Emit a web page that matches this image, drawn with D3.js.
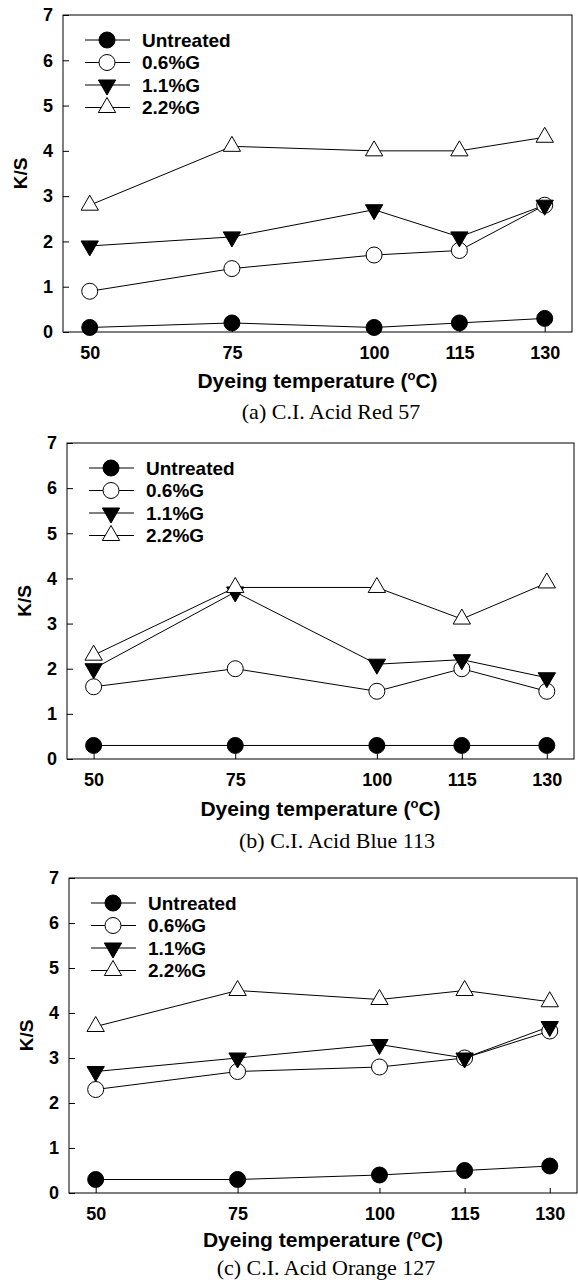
<!DOCTYPE html>
<html>
<head>
<meta charset="utf-8">
<script src="https://cdn.jsdelivr.net/npm/d3@7"></script>
<style>
  body { margin: 0; background: #fff; }
  svg { display: block; }
</style>
</head>
<body>
<div id="chart"></div>
<script>
// data
var temps = [50, 75, 100, 115, 130];
var seriesNames = ['Untreated', '0.6%G', '1.1%G', '2.2%G'];
var yTicks = [0, 1, 2, 3, 4, 5, 6, 7];

var redUntreated = [0.1, 0.2, 0.1, 0.2, 0.3];
var red06 = [0.9, 1.4, 1.7, 1.8, 2.8];
var red11 = [1.9, 2.1, 2.7, 2.1, 2.8];
var red22 = [2.8, 4.1, 4.0, 4.0, 4.3];

var blueUntreated = [0.3, 0.3, 0.3, 0.3, 0.3];
var blue06 = [1.6, 2.0, 1.5, 2.0, 1.5];
var blue11 = [2.0, 3.7, 2.1, 2.2, 1.8];
var blue22 = [2.3, 3.8, 3.8, 3.1, 3.9];

var orangeUntreated = [0.3, 0.3, 0.4, 0.5, 0.6];
var orange06 = [2.3, 2.7, 2.8, 3.0, 3.6];
var orange11 = [2.7, 3.0, 3.3, 3.0, 3.7];
var orange22 = [3.7, 4.5, 4.3, 4.5, 4.25];

var captions = ['(a) C.I. Acid Red 57', '(b) C.I. Acid Blue 113', '(c) C.I. Acid Orange 127'];

var SANS = '"Liberation Sans", Arial, sans-serif';
var SERIF = '"Liberation Serif", "Times New Roman", serif';

var Chart = {
  WIDTH: 578,
  HEIGHT: 1282,
  // frame of each panel plus offsets of the titles under it
  PANELS: [
    { left: 63, top: 15, right: 572, bottom: 332, titleDy: 56, capDy: 87, capX: 331 },
    { left: 67, top: 443, right: 574, bottom: 759, titleDy: 57, capDy: 89, capX: 337 },
    { left: 69, top: 878, right: 577, bottom: 1193, titleDy: 54, capDy: 82, capX: 326 }
  ],

  // marker drawing for each series
  marker: function(sel, idx) {
    if (idx < 2) {
      sel.append('circle')
        .attr('r', 8)
        .attr('fill', idx === 0 ? '#000' : '#fff')
        .attr('stroke', '#000')
        .attr('stroke-width', 1);
    } else {
      sel.append('path')
        .attr('d', d3.symbol(d3.symbolTriangle, 130)())
        .attr('transform', idx === 2 ? 'rotate(180)' : null)
        .attr('fill', idx === 2 ? '#000' : '#fff')
        .attr('stroke', '#000')
        .attr('stroke-width', 1);
    }
  },

  drawPanel: function(svg, box, data, caption) {
    var x = d3.scaleLinear().domain([45.3, 134.8]).range([box.left, box.right]);
    var y = d3.scaleLinear().domain([0, 7]).range([box.bottom, box.top]);
    var g = svg.append('g');

    // axes, ticks pointing inside the frame
    var yAxis = g.append('g')
      .attr('transform', 'translate(' + box.left + ',0)')
      .call(d3.axisLeft(y).tickValues(yTicks).tickFormat(d3.format('d'))
        .tickSizeInner(-6).tickSizeOuter(0).tickPadding(10));
    var xAxis = g.append('g')
      .attr('transform', 'translate(0,' + box.bottom + ')')
      .call(d3.axisBottom(x).tickValues(temps)
        .tickSizeInner(-5).tickSizeOuter(0).tickPadding(14));
    [yAxis, xAxis].forEach(function(a) {
      a.select('.domain').remove();
      a.selectAll('line').attr('stroke', '#000');
      a.selectAll('text')
        .attr('fill', '#000')
        .style('font-family', SANS)
        .style('font-weight', 'bold')
        .style('font-size', '18px');
    });

    // frame
    g.append('rect')
      .attr('x', box.left).attr('y', box.top)
      .attr('width', box.right - box.left).attr('height', box.bottom - box.top)
      .attr('fill', 'none').attr('stroke', '#000').attr('stroke-width', 1);

    // axis titles
    g.append('text')
      .attr('transform', 'translate(' + (box.left - 36) + ',' + ((box.top + box.bottom) / 2) + ') rotate(-90)')
      .attr('text-anchor', 'middle')
      .style('font-family', SANS)
      .style('font-weight', 'bold').style('font-size', '19px')
      .text('K/S');

    var xt = g.append('text')
      .attr('x', (box.left + box.right) / 2)
      .attr('y', box.bottom + box.titleDy)
      .attr('text-anchor', 'middle')
      .style('font-family', SANS)
      .style('font-weight', 'bold').style('font-size', '21px');
    xt.append('tspan').text('Dyeing temperature (');
    xt.append('tspan').attr('dy', -8).style('font-size', '13px').text('o');
    xt.append('tspan').attr('dy', 8).text('C)');

    g.append('text')
      .attr('x', box.capX)
      .attr('y', box.bottom + box.capDy)
      .attr('text-anchor', 'middle')
      .style('font-family', SERIF)
      .style('font-size', '22px')
      .text(caption);

    // series lines, then markers on top
    var line = d3.line()
      .x(function(d, i) { return x(temps[i]); })
      .y(function(d) { return y(d); });

    data.forEach(function(vals) {
      g.append('path')
        .datum(vals)
        .attr('d', line)
        .attr('fill', 'none')
        .attr('stroke', '#000')
        .attr('stroke-width', 1);
    });
    data.forEach(function(vals, idx) {
      g.selectAll('g.m' + idx)
        .data(vals)
        .enter()
        .append('g')
        .attr('class', 'm' + idx)
        .attr('transform', function(d, i) { return 'translate(' + x(temps[i]) + ',' + y(d) + ')'; })
        .each(function() { Chart.marker(d3.select(this), idx); });
    });

    // legend
    var leg = g.selectAll('g.legend')
      .data(seriesNames)
      .enter()
      .append('g')
      .attr('class', 'legend')
      .attr('transform', function(d, i) {
        return 'translate(' + (box.left + 44) + ',' + (box.top + 25 + i * 22.5) + ')';
      });
    leg.append('line')
      .attr('x1', -22).attr('x2', 23)
      .attr('stroke', '#000').attr('stroke-width', 1);
    leg.each(function(d, i) { Chart.marker(d3.select(this), i); });
    leg.append('text')
      .attr('x', 35).attr('dy', '0.36em')
      .style('font-family', SANS)
      .style('font-weight', 'bold').style('font-size', '19px')
      .text(function(d) { return d; });
  },

  init: function() {
    var svg = d3.select('#chart').append('svg')
      .attr('width', Chart.WIDTH)
      .attr('height', Chart.HEIGHT);
    svg.append('rect').attr('width', Chart.WIDTH).attr('height', Chart.HEIGHT).attr('fill', '#fff');

    var panelData = [
      [redUntreated, red06, red11, red22],
      [blueUntreated, blue06, blue11, blue22],
      [orangeUntreated, orange06, orange11, orange22]
    ];
    Chart.PANELS.forEach(function(box, i) {
      Chart.drawPanel(svg, box, panelData[i], captions[i]);
    });
  }
};

Chart.init();
</script>
</body>
</html>
